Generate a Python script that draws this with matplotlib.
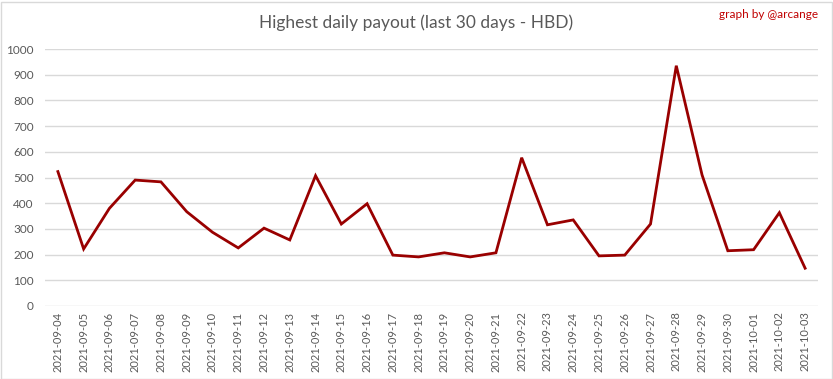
import matplotlib
matplotlib.use('Agg')
import matplotlib.pyplot as plt
from matplotlib.patches import Rectangle

# Данные графика
dates = ['2021-09-04', '2021-09-05', '2021-09-06', '2021-09-07', '2021-09-08',
         '2021-09-09', '2021-09-10', '2021-09-11', '2021-09-12', '2021-09-13',
         '2021-09-14', '2021-09-15', '2021-09-16', '2021-09-17', '2021-09-18',
         '2021-09-19', '2021-09-20', '2021-09-21', '2021-09-22', '2021-09-23',
         '2021-09-24', '2021-09-25', '2021-09-26', '2021-09-27', '2021-09-28',
         '2021-09-29', '2021-09-30', '2021-10-01', '2021-10-02', '2021-10-03']
payout = [523, 222, 380, 490, 483, 367, 287, 226, 303, 257,
          507, 319, 398, 198, 191, 207, 191, 207, 577, 316,
          335, 195, 198, 319, 935, 510, 215, 219, 363, 147]
y_ticks = list(range(0, 1001, 100))

plt.rcParams['font.family'] = ['Lato', 'DejaVu Sans']
text_color = '#595959'
grid_color = '#D9D9D9'

fig = plt.figure(figsize=(8.33, 3.79), dpi=100)
ax = fig.add_axes([45 / 833, 1 - 306 / 379, (818 - 45) / 833, (306 - 49) / 379])

x = list(range(len(dates)))
ax.plot(x, payout, color='#990000', linewidth=2.0, solid_joinstyle='miter', zorder=3)

ax.set_xlim(-0.5, len(dates) - 0.5)
ax.set_ylim(0, 1000)
ax.set_yticks(y_ticks)
ax.set_xticks(x)
ax.set_xticklabels(dates, rotation=90, fontsize=8)
ax.tick_params(axis='both', length=0, colors=text_color)
ax.tick_params(axis='y', labelsize=8.5, pad=8)
ax.tick_params(axis='x', pad=4)
ax.grid(axis='y', color=grid_color, linewidth=1)
ax.set_axisbelow(True)
for s in ax.spines.values():
    s.set_visible(False)

fig.text(416 / 833, 1 - 23 / 379, 'Highest daily payout (last 30 days - HBD)',
         ha='center', va='center', fontsize=12.5, color=text_color)
fig.text(818 / 833, 1 - 15 / 379, 'graph by @arcange', ha='right', va='center',
         fontsize=8.5, color='#C00000')

# рамка вокруг графика
fig.patches.append(Rectangle((0.5 / 833, 0.5 / 379), 831 / 833, 377 / 379,
                             transform=fig.transFigure, fill=False,
                             edgecolor=grid_color, linewidth=1))

fig.savefig('out.png', dpi=100)
